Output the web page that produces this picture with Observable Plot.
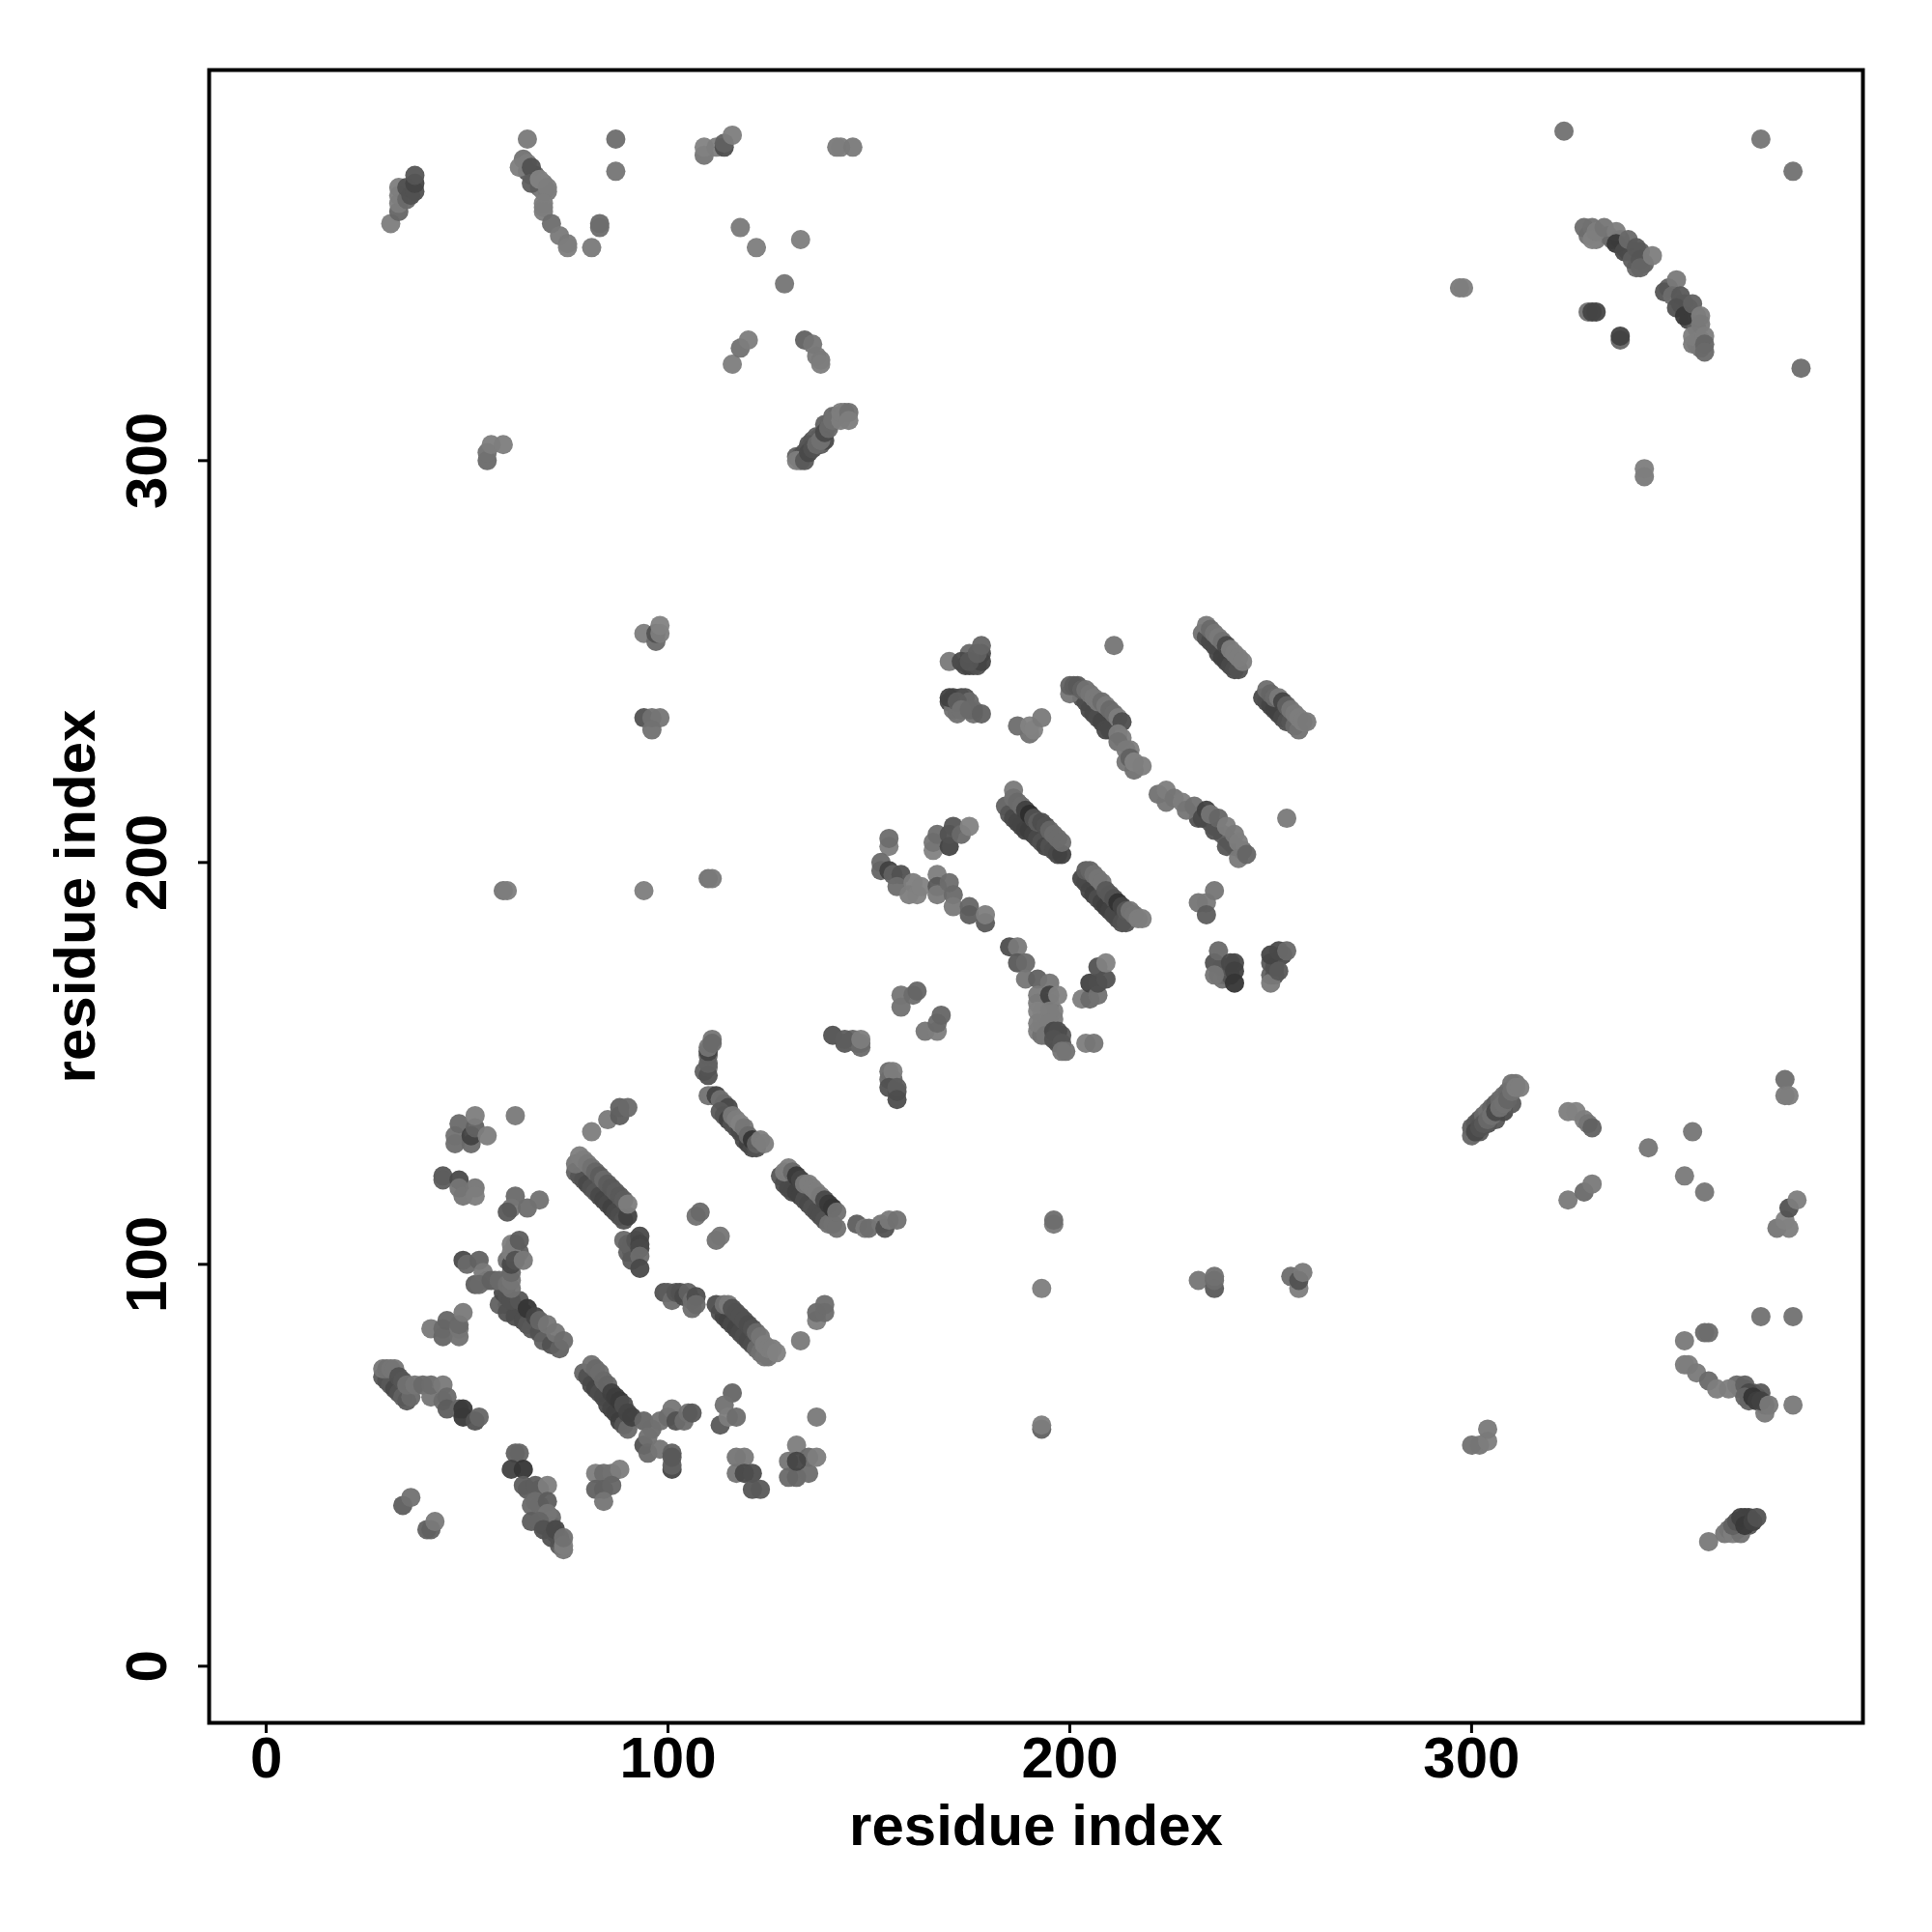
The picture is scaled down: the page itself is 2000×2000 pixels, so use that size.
<!DOCTYPE html>
<html><head><meta charset="utf-8">
<script src="https://cdn.jsdelivr.net/npm/d3@7"></script>
<script src="https://cdn.jsdelivr.net/npm/@observablehq/plot@0.6"></script>
<style>html,body{margin:0;padding:0;background:#fff}svg{display:block}</style>
</head><body><div id="chart"></div>
<script>
// each contact: [residue x, residue y, grey level]
const under=[[132,301,90],[133,301,80],[134,302,70],[135,303,80],[136,305,75],[137,306,90],[138,306,85],[139,309,90],[140,309,95],[141,311,100],[142,311,100],[144,312,110],[133,300,110],[135,304,75],[137,304,90],[138,304,85],[139,305,60],[300,134,85],[301,135,80],[302,136,75],[303,137,100],[304,138,110],[305,139,95],[306,140,85],[307,141,100],[308,142,105],[309,143,100],[310,145,110],[311,145,115],[302,133,80],[304,135,70],[306,136,75],[308,138,60],[310,140,80],[170,240,60],[171,241,55],[171,238,110],[173,241,60],[174,241,70],[175,240,100],[176,237,110],[172,237,110],[176,238,105],[174,249,60],[175,249,55],[176,249,60],[177,250,70],[178,252,60],[177,249,70],[178,250,55],[175,252,100],[62,103,110],[62,105,110],[63,103,90],[60,101,110],[192,165,125],[193,163,125],[194,161,125],[193,160,125],[194,158,110],[192,158,125],[193,157,110],[194,162,125],[196,161,120],[196,163,125],[195,165,120],[197,155,70],[198,157,80],[236,175,70],[237,172,80],[238,171,110],[239,172,100],[240,172,70],[241,175,60],[238,174,80],[250,172,90],[250,175,80],[251,172,75],[253,177,60],[366,70,100],[367,69,100],[368,69,95],[369,66,90],[370,68,70],[371,67,60],[372,68,80],[373,65,90],[329,356,110],[331,355,120],[334,356,110],[335,355,100],[337,355,60],[338,353,80],[339,352,80],[340,352,85],[341,348,100],[342,352,90],[343,349,90],[349,343,90],[352,339,90],[353,339,90],[354,338,80],[354,335,60],[356,333,90],[356,336,100],[357,330,120],[357,328,110],[356,329,120],[355,329,120],[64,375,110],[65,372,80],[67,371,90],[68,368,110],[69,369,120],[66,371,90],[69,367,125],[70,367,120],[69,363,125],[109,148,90],[110,149,110],[110,152,100],[155,146,100],[156,146,100],[157,143,70],[144,155,80],[147,155,90],[146,156,95],[148,155,100],[366,34,90],[367,35,80],[368,37,55],[369,37,50],[364,34,100],[368,36,60],[369,35,80],[65,44,85],[68,44,85],[66,40,100],[68,40,105],[71,35,85],[72,33,75],[73,32,80],[71,37,100],[69,35,70],[73,30,80],[60,90,80],[61,90,70],[62,89,80],[64,88,60],[66,86,70],[232,211,70],[233,212,85],[235,210,80],[236,209,90],[238,207,90],[239,206,90],[240,205,100],[241,204,100],[243,203,110],[91,105,85],[92,103,80],[90,103,90],[91,103,85]];
const c1=[[29,72,80],[30,71,70],[31,70,80],[32,69,60],[33,68,70],[34,67,90],[35,66,80],[36,67,100],[29,74,115],[30,74,110],[31,74,115],[32,74,115],[33,72,70],[34,71,75],[35,70,110],[37,70,115],[39,70,100],[41,67,115],[41,70,105],[44,66,105],[44,70,120],[45,67,100],[45,64,85],[48,64,95],[49,62,40],[49,64,40],[52,61,70],[53,62,95]];
const c2=[[41,84,120],[44,82,95],[44,84,100],[45,86,95],[48,82,110],[48,84,115],[48,85,100],[49,88,120],[34,40,85],[36,42,110],[40,34,90],[41,34,90],[42,36,120]];
const c3=[[58,90,90],[60,88,70],[62,87,65],[64,86,65],[65,85,75],[66,84,80],[68,83,70],[69,81,90],[71,80,70],[73,79,90],[59,93,60],[60,92,70],[61,91,70],[63,91,75],[65,89,35],[67,87,55],[68,86,95],[70,85,115],[72,83,115],[74,81,105],[52,95,85],[55,96,100],[57,96,110],[60,96,110]];
const c4=[[79,73,95],[80,72,70],[81,70,60],[82,69,55],[83,68,65],[84,67,60],[85,65,60],[86,64,55],[87,63,50],[88,61,45],[89,60,75],[90,59,100],[81,75,110],[82,74,100],[83,73,105],[84,71,100],[85,70,95],[86,68,50],[87,67,45],[88,66,40],[89,65,65],[90,63,55],[91,62,50]];
const c5=[[94,61,95],[94,55,70],[96,59,105],[95,57,110],[95,53,100],[98,54,115],[98,61,110],[100,62,105],[101,53,90],[101,49,55],[101,50,90],[101,52,80],[101,64,115],[102,61,70],[104,61,105],[105,63,110],[106,63,80]];
const c6=[[62,53,90],[63,53,95],[61,49,50],[64,49,35],[64,45,85],[67,45,85],[67,41,105],[70,45,125],[70,41,85],[70,38,115],[66,36,85],[68,36,95],[69,34,70],[71,32,70],[72,34,60],[74,29,115],[74,30,125],[74,32,110]];
const c7=[[82,48,125],[84,48,105],[86,48,110],[88,49,125],[82,44,90],[84,44,90],[86,45,95],[84,41,115]];
const c8=[[44,122,75],[44,121,85],[48,121,60],[48,119,115],[49,117,115],[52,119,115],[52,117,125],[62,117,100],[61,114,115],[60,113,80],[65,114,105],[68,116,110]];
const c9=[[47,130,105],[47,132,110],[48,135,100],[51,130,100],[51,132,50],[52,134,90],[52,137,125],[55,132,125],[62,137,120],[81,133,125],[85,136,120],[88,137,85],[88,139,90],[90,139,100]];
const c10=[[77,123,90],[78,122,75],[79,121,70],[80,120,60],[81,119,70],[82,118,75],[83,117,60],[84,116,55],[85,115,60],[86,114,50],[87,113,60],[88,112,65],[89,111,70],[90,112,50],[77,125,115],[78,127,125],[79,126,125],[80,125,120],[81,124,110],[82,123,95],[83,122,85],[84,121,100],[85,120,85],[86,119,80],[87,118,85],[88,117,80],[89,116,85],[90,115,125]];
const c11=[[89,106,100],[90,105,90],[91,101,80],[92,106,75],[93,107,60],[93,105,55],[93,104,60],[93,102,105],[93,99,60],[99,93,70],[100,93,85],[101,91,105],[102,93,75],[103,93,70],[104,92,60],[105,93,90],[106,91,105],[106,89,105],[107,92,65],[107,90,100]];
const c12=[[49,101,60],[50,100,100],[53,101,90],[54,98,120],[53,95,100],[56,96,90],[58,96,100],[60,95,110],[61,94,110],[61,96,115],[61,98,100],[61,100,60],[61,103,125],[61,105,125],[62,101,70],[63,106,85],[64,101,120]];
const c13=[[113,88,70],[114,87,55],[115,86,50],[116,85,60],[117,84,55],[118,83,60],[119,82,65],[120,81,60],[121,80,65],[122,79,100],[123,78,110],[124,77,115],[125,77,115],[112,90,65],[114,90,110],[115,90,120],[116,89,70],[117,88,70],[118,87,70],[119,86,70],[120,85,65],[121,84,70],[122,83,100],[123,82,115],[124,80,125],[125,79,125],[126,79,125],[127,78,130]];
const c14=[[133,81,120],[137,86,125],[137,88,100],[139,88,105],[139,90,105],[116,68,95],[114,65,110],[113,60,80],[115,62,125],[117,62,105],[117,52,115],[119,52,120],[117,48,115],[119,48,60],[121,48,65],[121,44,75],[123,44,80],[132,55,125],[130,51,115],[135,52,100],[130,47,100],[132,47,95],[135,48,105],[132,51,55],[137,52,125],[137,62,120]];
const c15=[[110,142,110],[111,142,120],[112,142,55],[113,141,110],[114,140,100],[115,139,60],[113,138,80],[114,137,75],[115,136,50],[116,135,70],[117,134,70],[118,133,60],[119,131,60],[120,130,50],[121,129,60],[122,129,70],[116,137,120],[117,136,125],[118,135,130],[119,134,115],[120,132,100],[121,131,35],[122,130,90],[123,131,125],[124,130,125],[110,147,70],[110,150,90],[110,153,55],[110,154,115],[111,156,115],[111,155,100]];
const c16=[[107,112,110],[108,113,100],[112,106,110],[113,107,115],[141,157,70],[144,156,85],[148,154,100],[148,156,125],[155,148,105],[156,148,125],[155,144,70],[157,144,85],[157,141,65]];
const c17=[[128,122,75],[129,120,65],[130,119,60],[131,118,60],[132,118,50],[133,117,50],[134,116,65],[135,115,60],[136,114,70],[137,113,65],[138,112,65],[139,111,70],[140,110,110],[141,110,110],[142,109,110],[129,123,125],[130,124,125],[131,123,100],[132,122,40],[133,121,55],[134,120,120],[135,120,125],[136,119,125],[137,118,125],[138,117,120],[139,116,60],[140,115,40],[141,114,35],[142,113,110],[147,110,85],[149,109,120],[150,109,105],[153,110,115],[154,109,70],[155,111,120],[157,111,110]];
const c18=[[155,204,125],[155,206,105],[153,200,100],[153,198,95],[155,198,50],[156,197,90],[158,197,70],[157,194,105],[160,192,125],[161,195,125],[162,192,130],[163,194,130],[167,197,125],[167,194,80],[167,192,120],[170,195,105],[171,192,100],[171,189,120],[175,189,95],[175,187,85],[179,185,80],[179,187,125]];
const c19=[[166,203,130],[166,205,115],[167,207,105],[170,204,55],[170,207,70],[171,209,75],[173,207,100],[175,209,130],[170,250,120],[173,250,60],[175,250,75],[177,252,90],[178,254,95],[170,241,50],[172,240,85],[173,238,110],[175,238,100],[178,237,90]];
const c20=[[184,214,90],[185,212,75],[186,211,60],[187,210,55],[188,209,55],[189,208,50],[190,208,45],[191,207,50],[192,206,60],[193,205,70],[194,204,55],[195,204,70],[196,203,65],[197,202,60],[198,202,50],[186,218,120],[186,216,110],[187,215,100],[188,214,105],[189,213,50],[190,212,25],[191,211,70],[192,210,85],[193,210,65],[194,209,70],[195,208,95],[196,207,105],[197,206,105],[198,205,105]];
const c21=[[203,196,55],[204,195,60],[205,193,55],[206,192,50],[207,191,65],[208,190,50],[209,189,45],[210,188,50],[211,187,60],[212,186,60],[213,185,70],[214,185,75],[204,198,85],[205,198,95],[206,197,110],[207,196,115],[208,195,115],[209,193,80],[210,192,80],[211,191,70],[212,190,30],[213,189,55],[214,188,80],[215,188,115],[216,187,115],[217,186,125],[218,186,125]];
const c22=[[185,179,65],[187,179,120],[187,175,80],[189,175,100],[189,171,115],[192,171,90],[195,170,115],[192,167,120],[195,167,50],[197,167,130],[192,163,130],[195,163,125],[192,160,125],[195,160,125],[194,157,115],[196,158,60],[197,158,65],[196,156,70],[198,155,75],[199,153,110],[198,153,115],[204,155,125],[206,155,115]];
const c23=[[203,166,125],[205,166,100],[205,170,50],[207,167,110],[207,170,65],[207,174,70],[209,171,70],[209,175,130],[158,164,110],[158,167,115],[161,167,105],[162,168,95],[164,158,115],[167,158,125],[167,160,100],[168,162,95]];
const c24=[[203,241,70],[204,240,65],[205,238,60],[206,237,60],[207,236,65],[208,235,55],[209,233,60],[210,233,60],[200,242,115],[200,244,90],[201,244,85],[202,244,80],[203,243,90],[204,243,110],[205,242,115],[206,241,120],[207,240,120],[208,240,105],[209,239,120],[210,238,100],[211,237,105],[212,236,125],[213,235,65],[212,232,125],[213,231,125],[212,230,110],[215,228,125],[214,228,120],[214,225,115],[216,223,110],[215,226,90],[216,225,130],[218,224,125]];
const c25=[[187,234,105],[190,232,110],[190,234,130],[191,233,130],[193,236,120],[211,254,115],[254,211,120]];
const c26=[[233,257,110],[234,256,70],[235,255,60],[236,254,60],[237,252,60],[238,251,50],[239,250,50],[240,249,60],[241,248,65],[242,248,70],[234,259,120],[235,258,100],[236,257,115],[237,256,120],[238,255,110],[239,254,60],[240,253,125],[241,252,125],[242,251,125],[243,250,125]];
const c27=[[248,241,60],[249,240,65],[250,239,55],[251,238,50],[252,237,50],[253,236,60],[254,235,70],[255,235,75],[256,234,100],[257,233,110],[249,243,105],[250,242,95],[251,241,100],[252,241,120],[253,240,55],[254,239,90],[255,238,115],[256,237,120],[257,236,125],[258,235,125],[259,235,120]];
const c28=[[222,217,110],[224,215,115],[224,218,125],[226,216,115],[228,215,125],[229,213,115],[231,214,110],[233,211,60],[236,208,70],[239,204,75],[234,213,50],[235,212,115],[237,211,95],[239,209,125],[241,207,120],[242,205,125],[242,201,120],[244,202,95]];
const c29=[[232,190,115],[234,190,120],[234,187,85],[236,193,115],[236,172,115],[237,178,100],[240,175,60],[241,173,50],[241,170,35],[250,170,120],[251,174,70],[250,177,55],[252,178,60],[252,173,80],[254,178,100]];
const c30=[[31,359,125],[33,362,95],[33,364,125],[33,366,125],[33,368,125],[35,365,100],[35,368,70],[36,366,70],[37,367,70],[37,369,55],[37,371,75]];
const c31=[[63,373,125],[65,374,125],[66,373,70],[66,369,85],[65,380,120],[68,370,130],[70,368,125],[69,364,125],[69,362,125],[71,359,105],[73,356,120],[75,354,120],[75,353,125],[81,353,120],[83,359,100],[83,358,105],[87,380,105],[87,372,115]];
const c32=[[109,376,115],[109,378,130],[112,378,125],[114,378,65],[114,379,90],[116,381,125],[142,378,120],[143,378,125],[146,378,120],[118,358,120],[122,353,125],[133,355,125],[129,344,115],[116,324,125],[118,328,110],[120,330,125],[134,330,90],[136,329,115],[137,326,120],[138,325,120],[138,324,125]];
const c33=[[132,300,125],[134,300,80],[135,302,60],[136,303,70],[137,304,100],[138,305,110],[139,307,60],[140,308,100],[141,310,110],[143,310,125],[143,312,125],[145,312,110],[145,310,125],[55,300,100],[55,302,110],[56,304,125],[59,304,125],[94,257,125],[97,255,100],[97,257,70],[98,257,125],[98,259,130],[94,236,70],[96,236,110],[98,236,115],[96,233,110],[59,193,115],[60,193,125],[94,193,125],[110,196,110],[111,196,120]];
const c34=[[196,110,120],[196,111,105],[193,94,125],[193,59,90],[193,60,125],[232,96,115],[236,94,80],[236,96,105],[236,97,110],[255,97,105],[257,94,125],[257,96,70],[258,98,120],[300,55,110],[302,55,115],[304,56,125],[304,59,120]];
const c35=[[300,132,95],[301,133,60],[302,134,70],[303,135,80],[304,136,100],[305,137,110],[306,138,60],[307,139,110],[308,140,110],[309,141,95],[310,143,110],[311,144,125],[312,144,125],[324,138,125],[326,138,130],[328,136,125],[329,135,115],[330,134,90],[324,116,120],[328,118,100],[330,120,120],[344,129,115],[355,133,115],[353,122,120],[358,118,115],[378,146,105],[378,142,120],[379,142,125]];
const c36=[[376,109,115],[379,109,125],[378,111,130],[379,114,70],[381,116,125],[372,87,110],[380,87,110],[353,81,120],[358,83,100],[359,83,105],[353,75,120],[354,75,125],[356,73,120],[359,71,100],[361,69,125],[364,69,125],[368,70,90],[369,68,60],[368,67,95],[370,67,35],[371,66,45],[373,63,120],[372,66,50],[374,65,120],[380,65,120]];
const c37=[[359,31,120],[363,33,115],[365,33,125],[367,33,110],[365,35,90],[366,36,75],[367,37,50],[368,35,40],[370,36,50],[371,37,70],[323,382,110],[372,380,115],[380,372,110],[297,343,120],[298,343,125],[382,323,105],[343,296,120],[343,298,125]];
const c38=[[328,358,105],[330,358,110],[330,355,130],[331,357,125],[333,358,115],[336,357,125],[336,354,40],[338,352,60],[339,355,100],[340,350,85],[341,353,80],[342,350,75],[342,348,95],[345,351,125]];
const c39=[[348,342,75],[351,345,120],[350,341,105],[352,341,80],[351,338,70],[353,336,40],[355,339,90],[355,331,125],[357,336,125],[357,334,120],[358,331,125],[358,329,95],[358,327,100],[329,337,110],[330,337,55],[331,337,55],[337,330,95],[337,331,50]];
const contacts=[under,c1,c2,c3,c4,c5,c6,c7,c8,c9,c10,c11,c12,c13,c14,c15,c16,c17,c18,c19,c20,c21,c22,c23,c24,c25,c26,c27,c28,c29,c30,c31,c32,c33,c34,c35,c36,c37,c38,c39].flat();
const tickValues=[0,100,200,300];
const axisTitle="residue index";

const font="'Liberation Sans', Arial, sans-serif";
const grey=g=>{const v=Math.round(g<125?125-(125-g)*0.8:g);return `rgb(${v},${v},${v})`;};
const plot=Plot.plot({
  width:2000,height:2000,
  marginLeft:216,marginRight:72,marginTop:72,marginBottom:217,
  style:{fontFamily:font,fontWeight:"bold",fontSize:"60px",background:"#fff",color:"#000"},
  x:{domain:[-14.2,397.4]},
  y:{domain:[-14.1,397.2]},
  color:{type:"identity"},
  marks:[
    Plot.dot(contacts,{x:d=>d[0],y:d=>d[1],r:10,fill:d=>grey(d[2]),fillOpacity:0.95,stroke:"none"}),
    Plot.frame({stroke:"#000",strokeWidth:4}),
    Plot.axisX({ticks:tickValues,tickSize:11,tickPadding:3,fontSize:60,fontWeight:"bold",strokeWidth:3,label:axisTitle,labelAnchor:"center",labelArrow:"none",labelOffset:126,tickFormat:d=>d}),
    Plot.axisY({ticks:tickValues,tickSize:11,tickPadding:34,tickRotate:-90,fontSize:60,fontWeight:"bold",strokeWidth:3,textAnchor:"middle",label:axisTitle,labelAnchor:"center",labelArrow:"none",labelOffset:161,tickFormat:d=>d})
  ]
});
document.getElementById("chart").appendChild(plot);
</script></body></html>
